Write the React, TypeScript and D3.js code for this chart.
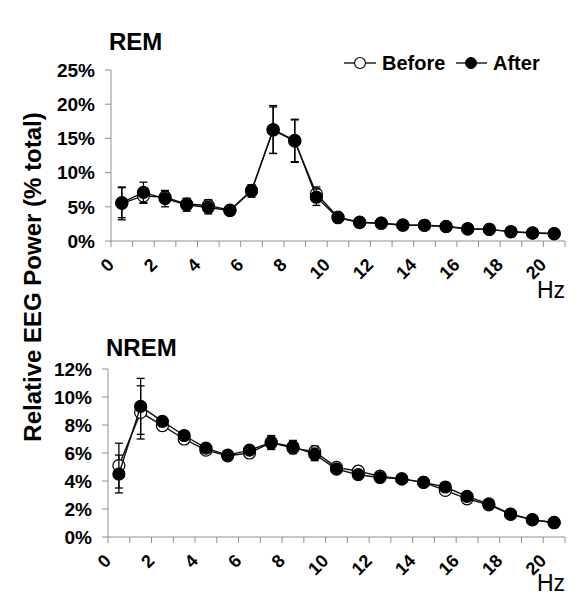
import React from 'react';
import * as d3 from 'd3';

// ---- data ----
const hzTickLabels = ['0', '2', '4', '6', '8', '10', '12', '14', '16', '18', '20'];
const binCount = 21;

const remBefore = [5.5, 6.6, 6.4, 5.4, 5.2, 4.5, 7.4, 16.2, 14.6, 6.9, 3.5, 2.75, 2.6, 2.35, 2.3, 2.15, 1.8, 1.7, 1.35, 1.2, 1.1];
const remBeforeErr = [2.4, 1.1, 0.9, 0.8, 0.85, 0.3, 0.8, 3.4, 3.1, 1.0, 0.3, 0.2, 0.2, 0.2, 0.2, 0.2, 0.2, 0.15, 0.15, 0.15, 0.1];
const remAfter = [5.6, 7.1, 6.2, 5.3, 4.9, 4.45, 7.3, 16.3, 14.7, 6.4, 3.4, 2.7, 2.6, 2.3, 2.3, 2.1, 1.75, 1.7, 1.35, 1.15, 1.05];
const remAfterErr = [2.2, 1.5, 1.2, 0.95, 0.95, 0.3, 0.9, 3.5, 3.1, 1.2, 0.3, 0.2, 0.2, 0.2, 0.2, 0.2, 0.2, 0.15, 0.15, 0.15, 0.1];

const nremBefore = [5.1, 8.9, 7.95, 7.0, 6.2, 5.8, 6.0, 6.75, 6.35, 6.1, 4.97, 4.7, 4.35, 4.15, 3.9, 3.33, 2.73, 2.3, 1.62, 1.22, 1.02];
const nremBeforeErr = [1.6, 1.9, 0.35, 0.25, 0.2, 0.15, 0.2, 0.45, 0.4, 0.4, 0.25, 0.2, 0.2, 0.15, 0.15, 0.15, 0.15, 0.1, 0.1, 0.1, 0.1];
const nremAfter = [4.5, 9.33, 8.26, 7.25, 6.35, 5.85, 6.2, 6.75, 6.45, 5.9, 4.85, 4.45, 4.25, 4.15, 3.9, 3.57, 2.9, 2.36, 1.64, 1.24, 1.04];
const nremAfterErr = [1.35, 2.0, 0.3, 0.25, 0.2, 0.15, 0.2, 0.5, 0.45, 0.45, 0.25, 0.2, 0.2, 0.15, 0.15, 0.15, 0.15, 0.1, 0.1, 0.1, 0.1];

const seriesNames = ['Before', 'After'];
const yAxisTitle = 'Relative EEG Power (% total)';
const xUnit = 'Hz';

const FONT = 'Arial, "Liberation Sans", sans-serif';
const AXIS_COLOR = '#8f8f8f';

type PanelProps = {
  title: string;
  before: number[];
  beforeErr: number[];
  after: number[];
  afterErr: number[];
  yMax: number;
  yStep: number;
  left: number;
  right: number;
  top: number;
  bottom: number;
  titleY: number;
  hzY: number;
};

function Series({ vals, errs, x, y, filled }: { vals: number[]; errs: number[]; x: (i: number) => number; y: d3.ScaleLinear<number, number>; filled: boolean }) {
  const line = d3.line<number>().x((_, i) => x(i)).y((d) => y(d));
  return (
    <g>
      {vals.map((v, i) => (
        <g key={'e' + i} stroke="#000" strokeWidth={1.3}>
          <line x1={x(i)} x2={x(i)} y1={y(v - errs[i])} y2={y(v + errs[i])} />
          <line x1={x(i) - 4} x2={x(i) + 4} y1={y(v + errs[i])} y2={y(v + errs[i])} />
          <line x1={x(i) - 4} x2={x(i) + 4} y1={y(v - errs[i])} y2={y(v - errs[i])} />
        </g>
      ))}
      <path d={line(vals) || ''} fill="none" stroke="#111" strokeWidth={1.4} />
      {vals.map((v, i) => (
        <circle key={'c' + i} cx={x(i)} cy={y(v)} r={6} fill={filled ? '#000' : '#fff'} stroke="#000" strokeWidth={1.2} />
      ))}
    </g>
  );
}

function Panel(p: PanelProps) {
  const xs = d3.scaleLinear().domain([0, binCount]).range([p.left, p.right]);
  const ys = d3.scaleLinear().domain([0, p.yMax]).range([p.bottom, p.top]);
  const xc = (i: number) => xs(i + 0.5);
  const yTicks = d3.range(0, p.yMax + 0.001, p.yStep);
  const xTicks = d3.range(0, binCount + 1);
  const fmt = d3.format('.0%');
  return (
    <g>
      <text x={p.left - 2} y={p.titleY} fontFamily={FONT} fontWeight="bold" fontSize={24}>{p.title}</text>
      {/* y axis */}
      <line x1={p.left} x2={p.left} y1={p.top} y2={p.bottom} stroke={AXIS_COLOR} strokeWidth={1} />
      {yTicks.map((t) => (
        <g key={'yt' + t}>
          <line x1={p.left - 6} x2={p.left} y1={ys(t)} y2={ys(t)} stroke={AXIS_COLOR} />
          <text x={p.left - 16} y={ys(t)} dy="0.36em" textAnchor="end" fontFamily={FONT} fontWeight="bold" fontSize={19}>{fmt(t / 100)}</text>
        </g>
      ))}
      {/* x axis */}
      <line x1={p.left} x2={p.right} y1={p.bottom} y2={p.bottom} stroke={AXIS_COLOR} strokeWidth={1} />
      {xTicks.map((t) => (
        <line key={'xt' + t} x1={xs(t)} x2={xs(t)} y1={p.bottom} y2={p.bottom + 6} stroke={AXIS_COLOR} />
      ))}
      {hzTickLabels.map((lab) => {
        const ax = xs(+lab) + 4;
        const ay = p.bottom + 25;
        return (
          <text key={'xl' + lab} x={ax} y={ay} textAnchor="end" transform={`rotate(-45 ${ax} ${ay})`} fontFamily={FONT} fontWeight="bold" fontSize={18}>{lab}</text>
        );
      })}
      <text x={p.right} y={p.hzY} textAnchor="end" fontFamily={FONT} fontSize={23}>{xUnit}</text>
      <Series vals={p.before} errs={p.beforeErr} x={xc} y={ys} filled={false} />
      <Series vals={p.after} errs={p.afterErr} x={xc} y={ys} filled={true} />
    </g>
  );
}

function Legend({ x, y }: { x: number; y: number }) {
  return (
    <g fontFamily={FONT} fontWeight="bold" fontSize={20}>
      <line x1={x} x2={x + 32} y1={y} y2={y} stroke="#000" strokeWidth={1.3} />
      <circle cx={x + 16} cy={y} r={5.5} fill="#fff" stroke="#000" strokeWidth={1.2} />
      <text x={x + 38} y={y} dy="0.36em">{seriesNames[0]}</text>
      <line x1={x + 112} x2={x + 143} y1={y} y2={y} stroke="#000" strokeWidth={1.3} />
      <circle cx={x + 127} cy={y} r={5.5} fill="#000" stroke="#000" />
      <text x={x + 149} y={y} dy="0.36em">{seriesNames[1]}</text>
    </g>
  );
}

export default function App() {
  return (
    <svg width={581} height={599} style={{ position: 'absolute', left: 0, top: 0, background: '#fff' }}>
      <rect width={581} height={599} fill="#fff" />
      <Panel title="REM" before={remBefore} beforeErr={remBeforeErr} after={remAfter} afterErr={remAfterErr}
        yMax={25} yStep={5} left={111} right={565} top={70} bottom={241} titleY={50} hzY={298} />
      <Panel title="NREM" before={nremBefore} beforeErr={nremBeforeErr} after={nremAfter} afterErr={nremAfterErr}
        yMax={12} yStep={2} left={108} right={565} top={369} bottom={537} titleY={356} hzY={591} />
      <Legend x={344} y={63} />
      <text transform="translate(41,277) rotate(-90)" textAnchor="middle" fontFamily={FONT} fontWeight="bold" fontSize={24}>{yAxisTitle}</text>
    </svg>
  );
}
